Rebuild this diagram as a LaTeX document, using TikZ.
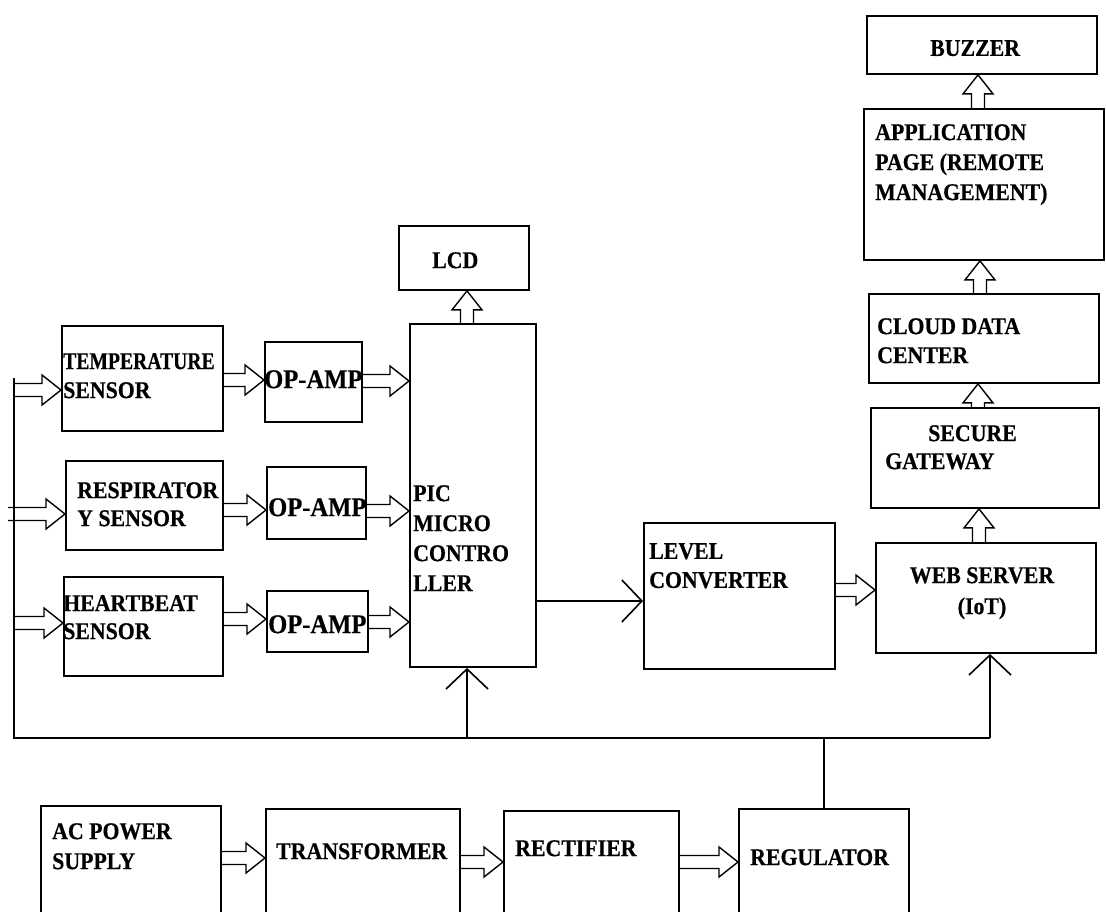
\documentclass[tikz,border=0pt]{standalone}
\usepackage{fontspec}
\setmainfont{Liberation Serif}[FakeStretch=0.91,BoldFeatures={FakeBold=0.5}]
\usetikzlibrary{arrows.meta,calc}
\tikzset{
  node-box/.style={draw,line width=1.9pt,anchor=north west,inner sep=0pt},
  node-text/.style={anchor=north west,inner sep=0pt,align=left,
    font=\fontsize{24}{29}\selectfont\bfseries},
  node-amp/.style={node-text,font=\fontsize{27}{32}\selectfont\bfseries},
  % hollow block arrow: shaft + open head, drawn by to path
  arrow-block/.style={line width=1.4pt,line join=miter,to path={
      ($(\tikztostart)!6.5pt!90:(\tikztotarget)$)
      -- ($(\tikztotarget)!19pt!(\tikztostart)!6.5pt!90:(\tikztotarget)$)
      -- ($(\tikztotarget)!19pt!(\tikztostart)!15pt!90:(\tikztotarget)$)
      -- (\tikztotarget)
      -- ($(\tikztotarget)!19pt!(\tikztostart)!15pt!-90:(\tikztotarget)$)
      -- ($(\tikztotarget)!19pt!(\tikztostart)!6.5pt!-90:(\tikztotarget)$)
      -- ($(\tikztostart)!6.5pt!-90:(\tikztotarget)$)}},
  arrow-line/.style={-{Straight Barb[length=20pt,width=42pt]},line width=1.6pt},
  bus-line/.style={line width=1.8pt},
}

\begin{document}
\begin{tikzpicture}[x=1pt,y=-1pt]
  \useasboundingbox (0,0) rectangle (1106,911);
  \clip (0,0) rectangle (1106,911);
  % sensors and op-amps
  \node[node-box,minimum width=161pt,minimum height=105pt] (temp) at (61,325) {};
  \node[node-box,minimum width=97pt,minimum height=80pt] (op1) at (264,341) {};
  \node[node-box,minimum width=157pt,minimum height=89pt] (resp) at (65,460) {};
  \node[node-box,minimum width=99pt,minimum height=72pt] (op2) at (266,466) {};
  \node[node-box,minimum width=159pt,minimum height=99pt] (heart) at (63,576) {};
  \node[node-box,minimum width=101pt,minimum height=61pt] (op3) at (266,590) {};
  % controller side
  \node[node-box,minimum width=126pt,minimum height=343pt] (pic) at (409,323) {};
  \node[node-box,minimum width=130pt,minimum height=64pt] (lcd) at (398,225) {};
  \node[node-box,minimum width=191pt,minimum height=146pt] (level) at (643,522) {};
  % IoT chain
  \node[node-box,minimum width=220pt,minimum height=110pt] (web) at (875,542) {};
  \node[node-box,minimum width=228pt,minimum height=100pt] (gate) at (870,407) {};
  \node[node-box,minimum width=230pt,minimum height=89pt] (cloud) at (868,293) {};
  \node[node-box,minimum width=240pt,minimum height=151pt] (app) at (863,108) {};
  \node[node-box,minimum width=230pt,minimum height=58pt] (buzz) at (866,15) {};
  % power supply
  \node[node-box,minimum width=180pt,minimum height=125pt] (ac) at (40,805) {};
  \node[node-box,minimum width=194pt,minimum height=122pt] (trans) at (265,808) {};
  \node[node-box,minimum width=175pt,minimum height=120pt] (rect) at (503,810) {};
  \node[node-box,minimum width=170pt,minimum height=122pt] (reg) at (738,808) {};

  % labels
  \node[node-text] (t-temp) at (63,353) {\scalebox{0.9}[1]{TEMPERATURE}\\SENSOR};
  \node[node-amp] (t-op1) at (264,370) {OP-AMP};
  \node[node-text,font=\fontsize{24}{28}\selectfont\bfseries] (t-resp) at (77,482) {RESPIRATOR\\Y SENSOR};
  \node[node-amp] (t-op2) at (268,498) {OP-AMP};
  \node[node-text,font=\fontsize{24}{28}\selectfont\bfseries] (t-heart) at (63,595) {HEARTBEAT\\SENSOR};
  \node[node-amp] (t-op3) at (268,615) {OP-AMP};
  \node[node-text,font=\fontsize{24}{30}\selectfont\bfseries] (t-pic) at (413,485) {PIC\\MICRO\\CONTRO\\LLER};
  \node[node-text] (t-lcd) at (432,252) {LCD};
  \node[node-text] (t-level) at (649,543) {LEVEL\\CONVERTER};
  \node[node-text,anchor=north,align=center,font=\fontsize{24}{31}\selectfont\bfseries] (t-web) at (982,567) {WEB SERVER\\(IoT)};
  \node[node-text,font=\fontsize{24}{28}\selectfont\bfseries] (t-gate) at (885,425) {\hspace*{43pt}SECURE\\GATEWAY};
  \node[node-text] (t-cloud) at (877,318) {CLOUD DATA\\CENTER};
  \node[node-text,font=\fontsize{24}{30}\selectfont\bfseries] (t-app) at (875,124) {APPLICATION\\PAGE (REMOTE\\MANAGEMENT)};
  \node[node-text] (t-buzz) at (930,40) {BUZZER};
  \node[node-text,font=\fontsize{24}{30}\selectfont\bfseries] (t-ac) at (52,823) {AC POWER\\SUPPLY};
  \node[node-text] (t-trans) at (276,843) {TRANSFORMER};
  \node[node-text] (t-rect) at (515,840) {RECTIFIER};
  \node[node-text] (t-reg) at (750,849) {REGULATOR};

  % power bus
  \coordinate (busTop) at (14,378);
  \coordinate (busW) at (14,738);
  \coordinate (busE) at (990,738);
  \draw[bus-line] (reg.north) -- (reg.north |- busW);
  \draw[bus-line] (busTop) -- (busW) -- (busE);
  \draw[arrow-line] (busE) -- (web.south -| busE);
  \draw[arrow-line] (busW -| 467,0) -- (pic.south -| 467,0);
  \draw[arrow-block] (14,390) to (temp.west |- 0,390);
  \draw[arrow-block] (8,514) to (resp.west |- 0,514);
  \draw[arrow-block] (14,623) to (heart.west |- 0,623);

  % signal path
  \draw[arrow-block] (temp.east |- 0,380) to (op1.west |- 0,380);
  \draw[arrow-block] (op1.east |- 0,381) to (pic.west |- 0,381);
  \draw[arrow-block] (resp.east |- 0,510) to (op2.west |- 0,510);
  \draw[arrow-block] (op2.east |- 0,511) to (pic.west |- 0,511);
  \draw[arrow-block] (heart.east |- 0,619) to (op3.west |- 0,619);
  \draw[arrow-block] (op3.east |- 0,622) to (pic.west |- 0,622);
  \draw[arrow-block] (pic.north -| 467,0) to (lcd.south -| 467,0);
  \draw[arrow-line] (pic.east |- 0,601) -- (level.west |- 0,601);
  \draw[arrow-block] (level.east |- 0,590) to (web.west |- 0,590);
  \draw[arrow-block] (web.north -| 979,0) to (gate.south -| 979,0);
  \draw[arrow-block] (gate.north -| 978,0) to (cloud.south -| 978,0);
  \draw[arrow-block] (cloud.north -| 980,0) to (app.south -| 980,0);
  \draw[arrow-block] (app.north -| 978,0) to (buzz.south -| 978,0);

  % supply chain
  \draw[arrow-block] (ac.east |- 0,858) to (trans.west |- 0,858);
  \draw[arrow-block] (trans.east |- 0,862) to (rect.west |- 0,862);
  \draw[arrow-block] (rect.east |- 0,862) to (reg.west |- 0,862);
\end{tikzpicture}
\end{document}
